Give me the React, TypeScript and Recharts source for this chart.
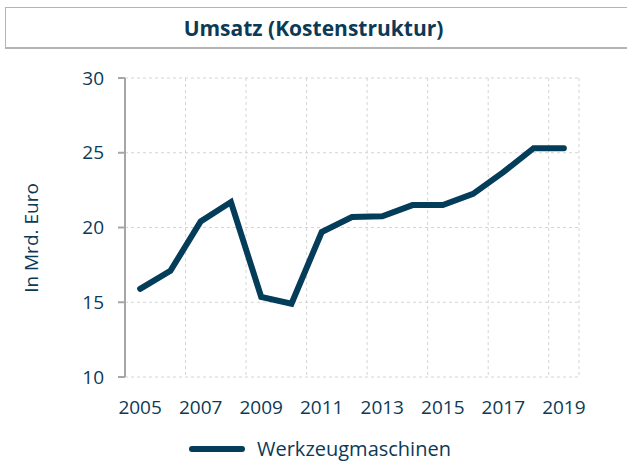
import { CartesianGrid, Line, LineChart, XAxis, YAxis } from 'recharts'

const years = [2005, 2006, 2007, 2008, 2009, 2010, 2011, 2012, 2013, 2014, 2015, 2016, 2017, 2018, 2019]
const umsatz = [15.9, 17.1, 20.4, 21.7, 15.35, 14.9, 19.7, 20.7, 20.75, 21.5, 21.5, 22.25, 23.7, 25.3, 25.3]
const labelTicks = [2005, 2007, 2009, 2011, 2013, 2015, 2017, 2019]
const gridTicks = [2004.5, 2006.5, 2008.5, 2010.5, 2012.5, 2014.5, 2016.5, 2018.5]
const yTicks = [10, 15, 20, 25, 30]

const data = years.map((year, i) => ({ year, value: umsatz[i] }))

const TEXT = '#0c3a56'
const LINE = '#043d59'
const AXIS = '#a6a6a6'
const GRID = '#d4d4d4'
const FONT = '"Open Sans", sans-serif'

export default function App() {
  return (
    <div style={{ position: 'absolute', left: 0, top: 0, width: 627, height: 465, background: '#fff', fontFamily: FONT }}>
      <div
        style={{
          position: 'absolute',
          left: 5,
          top: 7,
          width: 640,
          height: 42,
          borderTop: '1px solid #b4b4b4',
          borderLeft: '1px solid #b4b4b4',
          borderBottom: '2px solid #b4b4b4',
          boxSizing: 'border-box',
        }}
      />
      <div
        style={{
          position: 'absolute',
          left: 0,
          top: 13,
          width: 627,
          textAlign: 'center',
          fontSize: 21,
          fontWeight: 700,
          color: TEXT,
          lineHeight: '30px',
        }}
      >
        Umsatz (Kostenstruktur)
      </div>

      <div style={{ position: 'absolute', left: 0, top: 0 }}>
        <LineChart width={627} height={465} data={data} margin={{ top: 78, right: 48, bottom: 58, left: 0 }}>
          <CartesianGrid xAxisId="grid" stroke={GRID} strokeDasharray="3 3" strokeWidth={1} />
          <XAxis
            xAxisId="grid"
            dataKey="year"
            type="number"
            domain={[2004.5, 2019.5]}
            ticks={gridTicks}
            interval={0}
            tickFormatter={() => ''}
            height={0}
            axisLine={{ stroke: AXIS, strokeWidth: 2 }}
            tickLine={{ stroke: AXIS, strokeWidth: 2 }}
            tickSize={7}
          />
          <XAxis
            xAxisId="lab"
            dataKey="year"
            type="number"
            domain={[2004.5, 2019.5]}
            ticks={labelTicks}
            interval={0}
            height={30}
            axisLine={false}
            tickLine={false}
            tickSize={6}
            tickMargin={18}
            tick={{ fill: TEXT, fontSize: 19, fontFamily: FONT }}
          />
          <YAxis
            domain={[10, 30]}
            ticks={yTicks}
            interval={0}
            width={125}
            axisLine={{ stroke: AXIS, strokeWidth: 2 }}
            tickLine={{ stroke: AXIS, strokeWidth: 2 }}
            tickSize={7}
            tickMargin={14}
            tick={{ fill: TEXT, fontSize: 19, fontFamily: FONT }}
          />
          <Line
            xAxisId="lab"
            dataKey="value"
            type="linear"
            stroke={LINE}
            strokeWidth={6}
            strokeLinecap="round"
            dot={false}
            activeDot={false}
            isAnimationActive={false}
          />
        </LineChart>
      </div>

      <div
        style={{
          position: 'absolute',
          left: 31,
          top: 238,
          transform: 'translate(-50%, -50%) rotate(-90deg)',
          whiteSpace: 'nowrap',
          fontSize: 19,
          color: TEXT,
        }}
      >
        In Mrd. Euro
      </div>

      <div style={{ position: 'absolute', left: 188, top: 435, display: 'flex', alignItems: 'center' }}>
        <svg width={58} height={28}>
          <line x1={4} y1={14} x2={54} y2={14} stroke={LINE} strokeWidth={6} strokeLinecap="round" />
        </svg>
        <span style={{ marginLeft: 11, fontSize: 20, color: TEXT, lineHeight: '28px' }}>Werkzeugmaschinen</span>
      </div>
    </div>
  )
}
